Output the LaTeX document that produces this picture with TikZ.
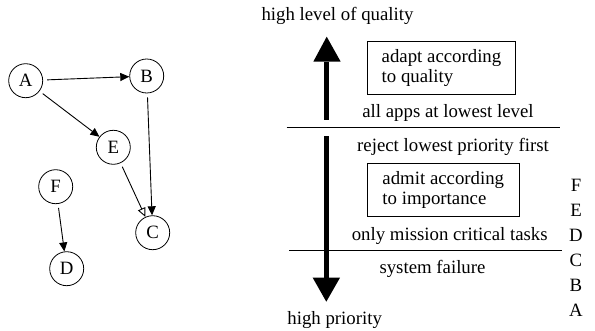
\documentclass[tikz,border=0pt]{standalone}
\usepackage{fontspec}
\setmainfont{Liberation Serif}
\usetikzlibrary{arrows.meta}
\begin{document}
\begin{tikzpicture}[x=1pt,y=-1pt,
  every node/.style={font=\fontsize{18.8}{20}\selectfont},
  vert/.style={draw, circle, minimum size=34pt, inner sep=0pt, line width=0.8pt},
  conn/.style={line width=0.9pt, -{Triangle[length=9pt,width=8pt]}, shorten <=4pt},
  openconn/.style={line width=0.9pt, -{Triangle[open,length=9pt,width=8pt]}, shorten <=4pt},
  lbl/.style={inner sep=0pt},
  box/.style={draw, line width=0.8pt, minimum height=53pt, align=left, inner sep=0pt},
  sep/.style={line width=0.9pt},
  big/.style={fill=black}]
\useasboundingbox (0,0) rectangle (595,331);
% graph
\node[vert] (A) at (25.7,80.7) {A};
\node[vert] (B) at (146.7,76) {B};
\node[vert] (E) at (113.3,147.3) {E};
\node[vert] (F) at (55.7,186.7) {F};
\node[vert] (C) at (152.7,232.7) {C};
\node[vert] (D) at (66.7,268.7) {D};
\draw[conn] (A) -- (B);
\draw[conn] (A) -- (E);
\draw[conn] (B) -- (C);
\draw[openconn] (E) -- (C);
\draw[conn] (F) -- (D);
% right side
\node[lbl] (hq) at (337.5,16) {high level of quality};
\node[lbl] (hp) at (334.7,320) {high priority};
\fill[big] (324,120) rectangle (329.3,61.7);
\fill[big] (313.3,61.7) -- (326.7,36.7) -- (340.7,61.7) -- cycle;
\fill[big] (324,136) rectangle (329.3,277.7);
\fill[big] (312.7,277.7) -- (326.3,301.7) -- (340,277.7) -- cycle;
\node[box, minimum width=148.4pt] (b1) at (441.5,67.8) {adapt according\\to quality};
\node[box, minimum width=152pt] (b2) at (443.3,190.3) {admit according\\to importance};
\node[lbl] (t1) at (448,113.3) {all apps at lowest level};
\coordinate (l1a) at (286.7,127.7);
\coordinate (l1b) at (560,127.7);
\draw[sep] (l1a) -- (l1b);
\node[lbl] (t2) at (453,146.7) {reject lowest priority first};
\node[lbl] (t3) at (449.7,236) {only mission critical tasks};
\coordinate (l2a) at (289.3,250);
\coordinate (l2b) at (561.7,250);
\draw[sep] (l2a) -- (l2b);
\node[lbl] (t4) at (432.5,269.3) {system failure};
\node[lbl] (pF) at (576,185) {F};
\node[lbl] (pE) at (576,210) {E};
\node[lbl] (pD) at (576,235) {D};
\node[lbl] (pC) at (576,260) {C};
\node[lbl] (pB) at (576,285) {B};
\node[lbl] (pA) at (576,310) {A};
\end{tikzpicture}
\end{document}
